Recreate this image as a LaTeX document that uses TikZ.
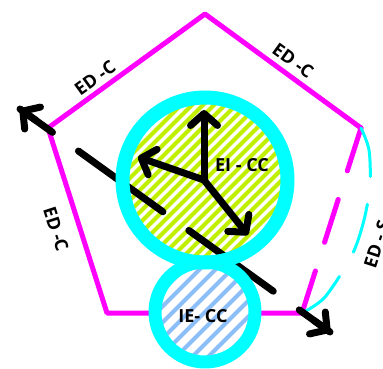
\documentclass[tikz,border=0pt]{standalone}
\usepackage{fontspec}
\setmainfont{Open Sans}
\usetikzlibrary{arrows.meta,calc}
\definecolor{mag}{RGB}{255,0,255}
\definecolor{cyn}{RGB}{0,255,255}
\definecolor{lime}{RGB}{192,240,0}
\definecolor{sky}{RGB}{140,190,250}
\begin{document}
\begin{tikzpicture}[x=1pt,y=-1pt,
  edge/.style={mag,line width=5pt,line cap=round,line join=round},
  lbl/.style={font=\bfseries\fontsize{18}{18}\selectfont,inner sep=0pt},
  blk/.style={line width=7pt,line cap=round,black},
  tipd/.style={-{Straight Barb[length=12pt,width=27pt,round]}},
  ring/.style={cyn}
]
\useasboundingbox (0,0) rectangle (383,369);
% pentagon
\coordinate (T) at (205,14);
\coordinate (R) at (361,128);
\coordinate (BR) at (302,313);
\coordinate (BL) at (107,313);
\coordinate (L) at (48,128);
\draw[edge] (BR) -- (BL) -- (L) -- (T) -- (R);
\draw[edge,dash pattern=on 45pt off 30pt] (R) -- (BR);
\draw[cyn,line width=3pt,line cap=round,dash pattern=on 50pt off 28pt]
  plot[smooth] coordinates {(R) (369,150) (370,185) (364,220) (352,255) (325,297) (BR)};
% edge labels
\node[lbl,rotate=36] (l1) at (95,78) {ED -C};
\node[lbl,rotate=-36] (l2) at (293,61) {ED -C};
\node[lbl,rotate=-72] (l3) at (56,229) {ED -C};
\node[lbl,rotate=72] (l4) at (377,244) {ED - S};
% hatched fills
\coordinate (c1) at (205,180);
\coordinate (c2) at (205,312);
\begin{scope}
  \clip (c1) circle[radius=82pt];
  \fill[white] (c1) circle[radius=82pt];
  \foreach \s in {-198,-187,...,198}
    \draw[lime,line width=4pt] ($(c1)+(\s-100,100)$) -- ++(200,-200);
\end{scope}
\begin{scope}
  \clip (c2) circle[radius=50pt];
  \fill[white] (c2) circle[radius=50pt];
  \foreach \s in {-192,-176,...,192}
    \draw[sky,line width=4pt] ($(c2)+(\s-70,70)$) -- ++(140,-140);
\end{scope}
% dashed double arrow
\coordinate (pA) at (20,109);
\coordinate (pB) at (330,332);
\draw[blk,dash pattern=on 104pt off 32pt,dash phase=64pt] (pA) -- (pB);
\draw[blk,tipd] ($(pA)!20pt!(pB)$) -- (pA);
\draw[blk,tipd] ($(pB)!20pt!(pA)$) -- (pB);
% rings
\draw[ring,line width=14pt] (c1) circle[radius=82.5pt];
\draw[ring,line width=13pt] (c2) circle[radius=50pt];
% inner arrows
\coordinate (o) at (204,180);
\coordinate (a1) at (204,110);
\coordinate (a2) at (138,157);
\coordinate (a3) at (248,235);
\draw[blk,tipd] (o) -- (a1);
\draw[blk,tipd] (o) -- (a2);
\draw[blk,tipd] (o) -- (a3);
% circle texts
\node[lbl] (ei) at (242,165) {EI - CC};
\node[lbl] (ie) at (203,316) {IE- CC};
\end{tikzpicture}
\end{document}
